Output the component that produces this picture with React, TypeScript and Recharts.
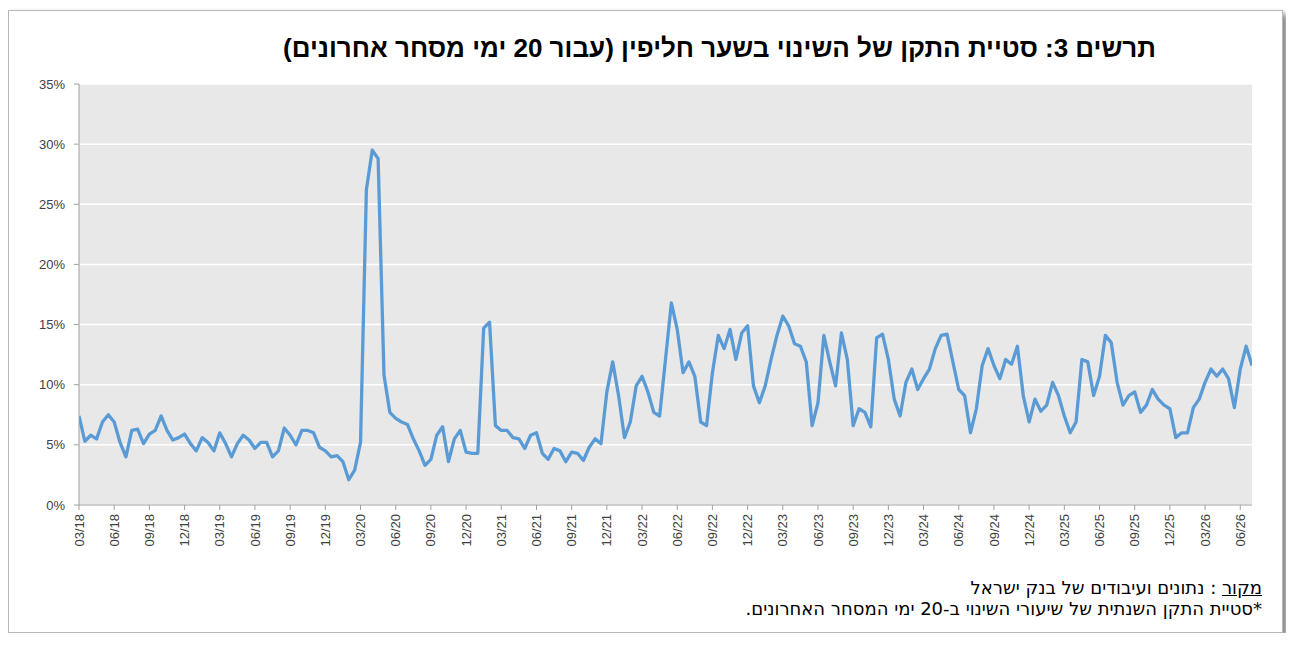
import React from "react";
import { LineChart, Line, XAxis, YAxis, CartesianGrid } from "recharts";

// Half-monthly readings, starting March 2018 (percent)
const VALUES: number[] = [
  7.4, 5.3, 5.8, 5.5, 6.9, 7.5, 6.9, 5.2, 4.0, 6.2,
  6.3, 5.1, 5.9, 6.2, 7.4, 6.2, 5.4, 5.6, 5.9, 5.1,
  4.5, 5.6, 5.2, 4.5, 6.0, 5.1, 4.0, 5.1, 5.8, 5.4,
  4.7, 5.2, 5.2, 4.0, 4.5, 6.4, 5.8, 5.0, 6.2, 6.2,
  6.0, 4.8, 4.5, 4.0, 4.1, 3.6, 2.1, 2.9, 5.2, 26.2,
  29.5, 28.8, 10.8, 7.7, 7.2, 6.9, 6.7, 5.5, 4.5, 3.3,
  3.8, 5.8, 6.5, 3.6, 5.5, 6.2, 4.4, 4.3, 4.3, 14.7,
  15.2, 6.6, 6.2, 6.2, 5.6, 5.5, 4.7, 5.8, 6.0, 4.3,
  3.8, 4.7, 4.5, 3.6, 4.4, 4.3, 3.7, 4.8, 5.5, 5.1,
  9.4, 11.9, 9.1, 5.6, 6.9, 9.9, 10.7, 9.4, 7.7, 7.4,
  12.1, 16.8, 14.6, 11.0, 11.9, 10.7, 6.9, 6.6, 11.0, 14.1,
  13.0, 14.6, 12.1, 14.3, 14.9, 9.9, 8.5, 9.9, 12.1, 14.1,
  15.7, 14.9, 13.4, 13.2, 11.9, 6.6, 8.5, 14.1, 11.9, 9.9,
  14.3, 12.1, 6.6, 8.0, 7.7, 6.5, 13.9, 14.2, 12.1, 8.8,
  7.4, 10.2, 11.3, 9.6, 10.5, 11.3, 13.0, 14.1, 14.2, 11.9,
  9.6, 9.1, 6.0, 8.0, 11.6, 13.0, 11.6, 10.5, 12.1, 11.7,
  13.2, 9.1, 6.9, 8.8, 7.8, 8.3, 10.2, 9.1, 7.4, 6.0,
  6.9, 12.1, 11.9, 9.1, 10.7, 14.1, 13.5, 10.2, 8.3, 9.1,
  9.4, 7.7, 8.3, 9.6, 8.8, 8.3, 8.0, 5.6, 6.0, 6.0,
  8.1, 8.8, 10.2, 11.3, 10.7, 11.3, 10.5, 8.1, 11.3, 13.2,
  11.6,
];

const TICK_LABELS: string[] = [
  "03/18", "06/18", "09/18", "12/18",
  "03/19", "06/19", "09/19", "12/19",
  "03/20", "06/20", "09/20", "12/20",
  "03/21", "06/21", "09/21", "12/21",
  "03/22", "06/22", "09/22", "12/22",
  "03/23", "06/23", "09/23", "12/23",
  "03/24", "06/24", "09/24", "12/24",
  "03/25", "06/25", "09/25", "12/25",
  "03/26", "06/26",
];

const Y_TICKS: number[] = [0, 5, 10, 15, 20, 25, 30, 35];

const TITLE = "תרשים 3: סטיית התקן של השינוי בשער חליפין (עבור 20 ימי מסחר אחרונים)";
const SOURCE_LABEL = "מקור";
const SOURCE_TEXT = ": נתונים ועיבודים של בנק ישראל";
const NOTE = "*סטיית התקן השנתית של שיעורי השינוי ב-20 ימי המסחר האחרונים.";

const data = VALUES.map((v, i) => ({ m: i * 0.5, v }));
const xTicks = TICK_LABELS.map((_, i) => i * 3);

const XTick = (props: any) => {
  const { x, y, payload } = props;
  const idx = Math.round(payload.value / 3);
  return (
    <text
      x={0}
      y={0}
      transform={`translate(${x},${y + 2}) rotate(-90)`}
      textAnchor="end"
      dy="0.35em"
      fontSize={13}
      fontFamily="'Liberation Sans', Arial, sans-serif"
      fill="#404040"
    >
      {TICK_LABELS[idx]}
    </text>
  );
};

export default function App() {
  return (
    <div
      style={{
        position: "relative",
        width: 1275,
        height: 623,
        marginTop: 2,
        border: "1px solid #b8b8b8",
        boxSizing: "border-box",
        background: "#fff",
        boxShadow: "4px 4px 6px rgba(0,0,0,0.5)",
      }}
    >
      <div
        style={{
          position: "absolute",
          right: 126,
          top: 22,
          direction: "rtl",
          fontFamily: "'Liberation Sans', 'DejaVu Sans', sans-serif",
          fontWeight: "bold",
          fontSize: 26,
          color: "#000",
          whiteSpace: "nowrap",
        }}
      >
        {TITLE}
      </div>
      <div style={{ position: "absolute", left: -1, top: -1 }}>
        <LineChart
          width={1275}
          height={623}
          data={data}
          margin={{ top: 74, right: 31, bottom: 78, left: 0 }}
        >
          <CartesianGrid
            vertical={false}
            horizontal={true}
            stroke="#ffffff"
            strokeWidth={1.5}
            fill="#e8e8e8"
            fillOpacity={1}
          />
          <XAxis
            dataKey="m"
            type="number"
            domain={[0, 100]}
            ticks={xTicks}
            interval={0}
            tick={<XTick />}
            tickSize={5}
            stroke="#a0a0a0"
            height={50}
            allowDataOverflow
          />
          <YAxis
            type="number"
            domain={[0, 35]}
            ticks={Y_TICKS}
            interval={0}
            tickFormatter={(v: number) => `${v}%`}
            tickSize={5}
            tickMargin={9}
            width={71}
            stroke="#a0a0a0"
            tick={{
              fontSize: 13,
              fill: "#404040",
              fontFamily: "'Liberation Sans', Arial, sans-serif",
            }}
          />
          <Line
            type="linear"
            dataKey="v"
            stroke="#5b9bd5"
            strokeWidth={3.3}
            strokeLinejoin="round"
            dot={false}
            isAnimationActive={false}
          />
        </LineChart>
      </div>
      <div
        style={{
          position: "absolute",
          right: 20,
          top: 566,
          direction: "rtl",
          textAlign: "right",
          fontFamily: "'DejaVu Sans', 'Noto Sans', sans-serif",
          fontSize: 18,
          lineHeight: "21px",
          color: "#000",
          whiteSpace: "nowrap",
        }}
      >
        <div>
          <span style={{ textDecoration: "underline" }}>{SOURCE_LABEL}</span> {SOURCE_TEXT}
        </div>
        <div>{NOTE}</div>
      </div>
    </div>
  );
}
